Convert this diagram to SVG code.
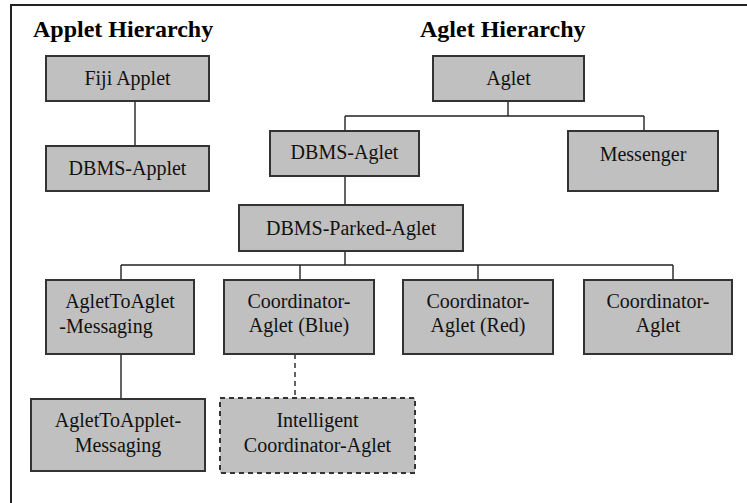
<svg xmlns="http://www.w3.org/2000/svg" width="747" height="503" viewBox="0 0 747 503">
<style>
.box{fill:#c0c0c0;stroke:#333;stroke-width:2}
.dash{stroke-dasharray:5,4}
.t{font-family:"Liberation Serif","Times New Roman",serif;font-size:20px;fill:#111;text-anchor:middle}
.h{font-family:"Liberation Serif","Times New Roman",serif;font-size:24px;font-weight:bold;fill:#000}
.c{fill:none;stroke:#222;stroke-width:1.4}
</style>
<rect x="0" y="0" width="747" height="503" fill="#fff"/>
<rect x="11" y="5" width="740" height="520" fill="none" stroke="#222" stroke-width="2"/>
<text class="h" x="33" y="37">Applet Hierarchy</text>
<text class="h" x="420" y="37">Aglet Hierarchy</text>
<g id="connectors">
<path class="c" d="M135,101V146"/>
<path class="c" d="M508,101V116M345,116H644M345,116V131M644,116V131"/>
<path class="c" d="M345,176V205"/>
<path class="c" d="M345,251V265M121,265H673M121,265V280M300,265V280M478,265V280M673,265V280"/>
<path class="c" d="M121,354V399"/>
<path class="c dash" d="M295,354V398"/>
</g>
<g id="fiji"><rect class="box" x="46" y="56" width="163" height="45"/><text class="t" x="127.5" y="85">Fiji Applet</text></g>
<g id="dbms-applet"><rect class="box" x="46" y="146" width="163" height="45"/><text class="t" x="127.5" y="175">DBMS-Applet</text></g>
<g id="aglet"><rect class="box" x="433" y="56" width="151" height="45"/><text class="t" x="508.5" y="85">Aglet</text></g>
<g id="dbms-aglet"><rect class="box" x="270" y="131" width="149" height="45"/><text class="t" x="344.5" y="159">DBMS-Aglet</text></g>
<g id="messenger"><rect class="box" x="568" y="131" width="150" height="60"/><text class="t" x="643" y="161">Messenger</text></g>
<g id="parked"><rect class="box" x="239" y="205" width="224" height="46"/><text class="t" x="351" y="235">DBMS-Parked-Aglet</text></g>
<g id="a2a"><rect class="box" x="46" y="280" width="148" height="74"/><text class="t" x="120" y="308">AgletToAglet</text><text class="t" x="106" y="333">-Messaging</text></g>
<g id="blue"><rect class="box" x="224" y="280" width="150" height="74"/><text class="t" x="299" y="308">Coordinator-</text><text class="t" x="299" y="332">Aglet (Blue)</text></g>
<g id="red"><rect class="box" x="403" y="280" width="150" height="74"/><text class="t" x="478" y="308">Coordinator-</text><text class="t" x="478" y="332">Aglet (Red)</text></g>
<g id="coord"><rect class="box" x="584" y="280" width="148" height="74"/><text class="t" x="658" y="308">Coordinator-</text><text class="t" x="658" y="332">Aglet</text></g>
<g id="a2applet"><rect class="box" x="31" y="399" width="174" height="72"/><text class="t" x="118" y="427">AgletToApplet-</text><text class="t" x="118" y="452">Messaging</text></g>
<g id="intelligent"><rect class="box dash" x="220" y="398" width="195" height="75"/><text class="t" x="317.5" y="427">Intelligent</text><text class="t" x="317.5" y="452">Coordinator-Aglet</text></g>
</svg>
